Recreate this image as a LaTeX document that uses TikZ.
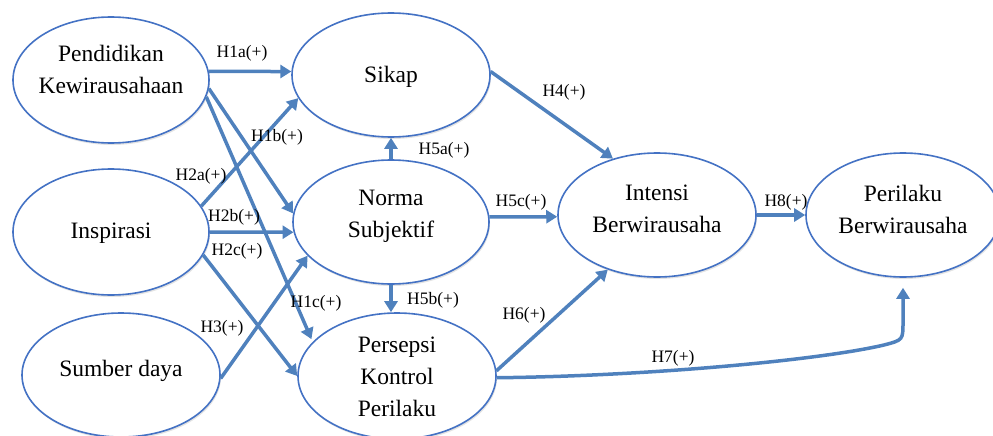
\documentclass[tikz,border=0pt]{standalone}
\usepackage{fontspec}
\setmainfont{Liberation Serif}
\usetikzlibrary{arrows.meta,shapes.geometric,shadows,calc}
\definecolor{ebl}{RGB}{68,114,196}
\definecolor{abl}{RGB}{79,129,189}
\begin{document}
\begin{tikzpicture}[x=1pt,y=-1pt,
  ell/.style={ellipse, draw=ebl, line width=1.6pt, fill=white, inner sep=0pt,
    drop shadow={shadow xshift=1pt,shadow yshift=-2pt,opacity=0.22}},
  txt/.style={align=center, font=\fontsize{23.5}{32}\selectfont, inner sep=0pt},
  hl/.style={font=\fontsize{17.5}{20}\selectfont, inner sep=0pt},
  arr/.style={draw=abl, line width=3.5pt, -{Triangle[length=11pt,width=13pt]}}]
\useasboundingbox (0,0) rectangle (993,436);
\clip (0,0) rectangle (993,436);

% ellipses
\node[ell, minimum width=196pt, minimum height=126pt] (pend) at (111,80) {};
\node[ell, minimum width=198pt, minimum height=124pt] (sikap) at (391,75) {};
\node[ell, minimum width=196pt, minimum height=126pt] (insp) at (111,232) {};
\node[ell, minimum width=196pt, minimum height=124pt] (norma) at (391,222) {};
\node[ell, minimum width=198pt, minimum height=124pt] (sumber) at (121,375) {};
\node[ell, minimum width=198pt, minimum height=126pt] (pe) at (397,376) {};
\node[ell, minimum width=198pt, minimum height=124pt] (intensi) at (657,215) {};
\node[ell, minimum width=194pt, minimum height=124pt] (ber) at (903,215) {};

% texts
\node[txt] (pendT) at (111,69) {Pendidikan\\Kewirausahaan};
\node[txt] (sikapT) at (391,77) {Sikap};
\node[txt] (inspT) at (111,233) {Inspirasi};
\node[txt] (normaT) at (391,216) {Norma\\Subjektif};
\node[txt] (sumberT) at (121,371) {Sumber daya};
\node[txt] (peT) at (397,377) {Persepsi\\Kontrol\\Perilaku};
\node[txt] (intensiT) at (657,209) {Intensi\\Berwirausaha};
\node[txt] (berT) at (903,209) {Perilaku\\Berwirausaha};

% arrows
\draw[arr] (pend.5) -- (sikap.178);
\draw[arr] (pend.355) -- (norma.175);
\draw[arr, shorten >=3pt] (pend.350) -- (pe.158);
\draw[arr] (insp.16) -- (sikap.194);
\draw[arr] (insp.east) -- (norma.186);
\draw[arr] (insp.346) -- (pe.west);
\draw[arr] (sumber.358) -- (norma.202);
\draw[arr] (sikap.2) -- (intensi.128);
\draw[arr] (norma.north) -- (sikap.south);
\draw[arr] (norma.south) -- (norma.south |- pe.north);
\draw[arr] (norma.3) -- (intensi.181);
\draw[arr] (intensi.east) -- (ber.west);
\draw[arr] (pe.3) -- (intensi.228);
\draw[arr, shorten >=10pt] (pe.359) .. controls (650,376) and (820,360) .. (884,345)
  .. controls (903,340) .. (903,322) -- (ber.south);

% labels
\node[hl] (l1a) at (242,53) {H1a(+)};
\node[hl] (l1b) at (277,137) {H1b(+)};
\node[hl] (l5a) at (444,150) {H5a(+)};
\node[hl] (l2a) at (201,176) {H2a(+)};
\node[hl] (l2b) at (234,217) {H2b(+)};
\node[hl] (l2c) at (237,251) {H2c(+)};
\node[hl] (l1c) at (316,303) {H1c(+)};
\node[hl] (l3) at (222,328) {H3(+)};
\node[hl] (l5b) at (433,300) {H5b(+)};
\node[hl] (l5c) at (521,202) {H5c(+)};
\node[hl] (l4) at (564,92) {H4(+)};
\node[hl] (l8) at (786,202) {H8(+)};
\node[hl] (l6) at (524,315) {H6(+)};
\node[hl] (l7) at (673,358) {H7(+)};
\end{tikzpicture}
\end{document}
